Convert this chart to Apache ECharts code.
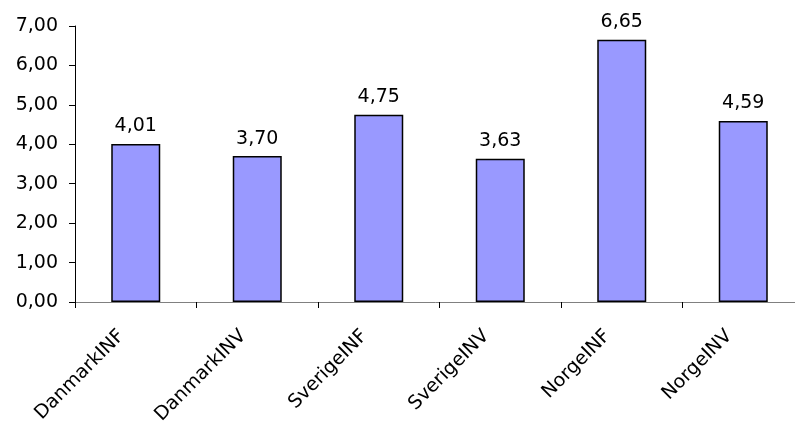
<!DOCTYPE html>
<html>
<head>
<meta charset="utf-8">
<script src="https://cdn.jsdelivr.net/npm/echarts@6/dist/echarts.min.js"></script>
<style>
  html, body { margin: 0; padding: 0; background: #fff; }
  #chart { width: 795px; height: 422px; }
</style>
</head>
<body>
<div id="chart"></div>
<script>
// Categories and values for the bar chart
const categories = ['DanmarkINF', 'DanmarkINV', 'SverigeINF', 'SverigeINV', 'NorgeINF', 'NorgeINV'];
const values = [4.01, 3.70, 4.75, 3.63, 6.65, 4.59];
const yTicks = [0, 1, 2, 3, 4, 5, 6, 7];

const fmt = (v, d) => v.toFixed(d).replace('.', ',');
const font = 'DejaVu Sans, Verdana, sans-serif';

const chart = echarts.init(document.getElementById('chart'), null, { renderer: 'canvas' });
chart.setOption({
  animation: false,
  backgroundColor: '#ffffff',
  grid: {
    left: 75, top: 26, right: -9, height: 276,
    containLabel: false, outerBoundsMode: 'none'
  },
  xAxis: {
    type: 'category',
    data: categories,
    boundaryGap: true,
    axisLine: { lineStyle: { color: '#808080', width: 1 } },
    axisTick: { show: true, length: 6, alignWithLabel: false, lineStyle: { color: '#000' } },
    axisLabel: {
      rotate: 45, color: '#000', fontFamily: font, fontSize: 19, margin: 17,
      padding: [0, 20, 0, 0],
      interval: 0
    }
  },
  yAxis: {
    type: 'value',
    min: yTicks[0],
    max: yTicks[yTicks.length - 1],
    interval: 1,
    splitLine: { show: false },
    axisLine: { show: true, lineStyle: { color: '#000', width: 1 } },
    axisTick: { show: true, length: 6, lineStyle: { color: '#000' } },
    axisLabel: {
      color: '#000', fontFamily: font, fontSize: 19, margin: 17,
      formatter: v => fmt(v, 2)
    }
  },
  series: [{
    type: 'bar',
    data: values,
    barWidth: 49,
    itemStyle: { color: '#9999ff', borderColor: '#000', borderWidth: 1.5 },
    label: {
      show: true, position: 'top', distance: 8,
      color: '#000', fontFamily: font, fontSize: 19,
      formatter: p => fmt(p.value, 2)
    }
  }]
});
</script>
</body>
</html>
